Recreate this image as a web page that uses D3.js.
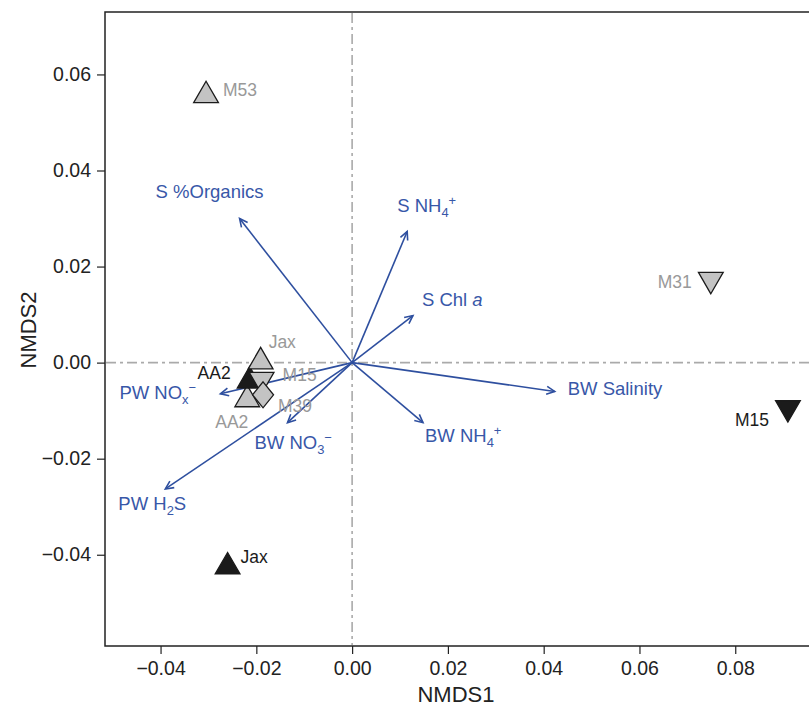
<!DOCTYPE html>
<html>
<head>
<meta charset="utf-8">
<script src="https://cdn.jsdelivr.net/npm/d3@7"></script>
<style>
  body { margin: 0; background: #fff; }
  text { font-family: "Liberation Sans", Arial, Helvetica, sans-serif; }
</style>
</head>
<body>
<div id="chart"></div>
<script>
// sample scores (grey = one survey, black = the other)
var sites  = ["AA2", "AA2", "Jax", "M15", "M39", "M53", "M31", "M15", "Jax"];
var survey = ["grey", "black", "grey", "grey", "grey", "grey", "grey", "black", "black"];
var marker = ["up", "up", "up", "down", "diamond", "up", "down", "down", "up"];
var nmds1  = [-0.0219, -0.0214, -0.0191, -0.0189, -0.0186, -0.0305, 0.0749, 0.0910, -0.0260];
var nmds2  = [-0.0077, -0.0038, 0.0002, -0.0035, -0.0067, 0.0556, 0.0173, -0.0094, -0.0425];

// environmental vectors
var vectors = ["S %Organics", "S NH4+", "S Chl a", "BW Salinity", "BW NH4+", "BW NO3-", "PW H2S", "PW NOx-"];
var vecX = [-0.0235, 0.0115, 0.0127, 0.0423, 0.0148, -0.0135, -0.0390, -0.0275];
var vecY = [0.0300, 0.0273, 0.0098, -0.0060, -0.0125, -0.0125, -0.0263, -0.0065];

var xTicks = [-0.04, -0.02, 0, 0.02, 0.04, 0.06, 0.08];
var yTicks = [-0.04, -0.02, 0, 0.02, 0.04, 0.06];

// rich text for vector labels: [text, kind]
var vecText = [
  [["S %Organics"]],
  [["S NH"], ["4", "sub"], ["+", "sup"]],
  [["S Chl "], ["a", "it"]],
  [["BW Salinity"]],
  [["BW NH"], ["4", "sub"], ["+", "sup"]],
  [["BW NO"], ["3", "sub"], ["\u2212", "sup"]],
  [["PW H"], ["2", "sub"], ["S"]],
  [["PW NO"], ["x", "sub"], ["\u2212", "sup"]]
];

// label placement (pixels from the mark)
var siteLab = [[-32, 22, "start"], [-19, -8, "end"], [8, -20, "start"], [21, -5, "start"],
               [15, 11, "start"], [17, -6, "start"], [-19, 2, "end"], [-19, 12, "end"], [13, -10, "start"]];
var vecLab = [[-30, -21, "middle"], [-10, -19, "start"], [9, -10, "start"], [13, 4, "start"],
              [2, 19, "start"], [-33, 26, "start"], [-47, 21, "start"], [-101, 5, "start"]];

var W = 809, H = 719;
var L = 105, T = 12, B = 646;

var svg = d3.select("#chart").append("svg").attr("width", W).attr("height", H);

var x = d3.scaleLinear().domain([-0.0516, 0.0954]).range([L, W]);
var y = d3.scaleLinear().domain([-0.0590, 0.0730]).range([B, T]);

var fmt = d3.format(".2f");

// axes
var gx = svg.append("g").attr("transform", "translate(0," + B + ")")
  .call(d3.axisBottom(x).tickValues(xTicks).tickFormat(fmt).tickSize(8).tickPadding(7));
var gy = svg.append("g").attr("transform", "translate(" + L + ",0)")
  .call(d3.axisLeft(y).tickValues(yTicks).tickFormat(fmt).tickSize(8).tickPadding(6));
[gx, gy].forEach(function(g) {
  g.select(".domain").remove();
  g.selectAll(".tick line").attr("stroke", "#222").attr("stroke-width", 1.2);
  g.selectAll(".tick text").attr("font-size", 19.5).attr("fill", "#222")
    .attr("font-family", "'Liberation Sans', Arial, sans-serif");
});

// frame (no right edge visible)
svg.append("path")
  .attr("d", "M" + W + "," + T + "H" + L + "V" + B + "H" + W)
  .attr("fill", "none").attr("stroke", "#222").attr("stroke-width", 1.5);

// zero lines
svg.append("line").attr("x1", x(0)).attr("x2", x(0)).attr("y1", T + 1).attr("y2", B - 1)
  .attr("stroke", "#aaa").attr("stroke-width", 1.6).attr("stroke-dasharray", "10,4,3,4");
svg.append("line").attr("x1", L + 1).attr("x2", W).attr("y1", y(0)).attr("y2", y(0))
  .attr("stroke", "#aaa").attr("stroke-width", 1.6).attr("stroke-dasharray", "10,4,3,4");

// axis titles
svg.append("text").attr("x", 456).attr("y", 702).attr("text-anchor", "middle")
  .attr("font-size", 22).attr("fill", "#222").text("NMDS1");
svg.append("text").attr("transform", "translate(36," + 330 + ") rotate(-90)")
  .attr("text-anchor", "middle").attr("font-size", 22).attr("fill", "#222").text("NMDS2");

function richText(g, parts, fs) {
  var shift = 0;
  parts.forEach(function(p) {
    var kind = p[1];
    var target = kind === "sub" ? 5 : (kind === "sup" ? -7 : 0);
    var ts = g.append("tspan").text(p[0]).attr("dy", target - shift);
    if (kind === "sub" || kind === "sup") ts.attr("font-size", fs * 0.7);
    if (kind === "it") ts.attr("font-style", "italic");
    shift = target;
  });
}

// vectors
var blue = "#2e4f9f";
var x0 = x(0), y0 = y(0);
vectors.forEach(function(v, i) {
  var tx = x(vecX[i]), ty = y(vecY[i]);
  svg.append("line").attr("x1", x0).attr("y1", y0).attr("x2", tx).attr("y2", ty)
    .attr("stroke", blue).attr("stroke-width", 1.6);
  var ang = Math.atan2(ty - y0, tx - x0), hl = 9, ha = 0.45;
  svg.append("path")
    .attr("d", "M" + (tx - hl * Math.cos(ang - ha)) + "," + (ty - hl * Math.sin(ang - ha)) +
      "L" + tx + "," + ty +
      "L" + (tx - hl * Math.cos(ang + ha)) + "," + (ty - hl * Math.sin(ang + ha)))
    .attr("fill", "none").attr("stroke", blue).attr("stroke-width", 1.6);
  var t = svg.append("text").attr("x", tx + vecLab[i][0]).attr("y", ty + vecLab[i][1])
    .attr("dy", "0.35em").attr("text-anchor", vecLab[i][2])
    .attr("font-size", 18.5).attr("fill", "#3857a8");
  richText(t, vecText[i], 18.5);
});

// sample markers
var triUp = d3.symbol().type(d3.symbolTriangle).size(265);
var diamond = "M0,-13L10.5,0L0,13L-10.5,0Z";
sites.forEach(function(s, i) {
  var px = x(nmds1[i]), py = y(nmds2[i]);
  var m = svg.append("path")
    .attr("fill", survey[i] === "grey" ? "#c3c3c3" : "#1b1b1b")
    .attr("stroke", "#1b1b1b").attr("stroke-width", 1.3).attr("stroke-linejoin", "miter");
  if (marker[i] === "diamond") m.attr("d", diamond).attr("transform", "translate(" + px + "," + py + ")");
  else if (marker[i] === "down") m.attr("d", triUp()).attr("transform", "translate(" + px + "," + py + ") rotate(180)");
  else m.attr("d", triUp()).attr("transform", "translate(" + px + "," + py + ")");
});
sites.forEach(function(s, i) {
  svg.append("text").attr("x", x(nmds1[i]) + siteLab[i][0]).attr("y", y(nmds2[i]) + siteLab[i][1])
    .attr("dy", "0.35em").attr("text-anchor", siteLab[i][2]).attr("font-size", 17.5)
    .attr("fill", survey[i] === "grey" ? "#999" : "#1b1b1b").text(s);
});
</script>
</body>
</html>
